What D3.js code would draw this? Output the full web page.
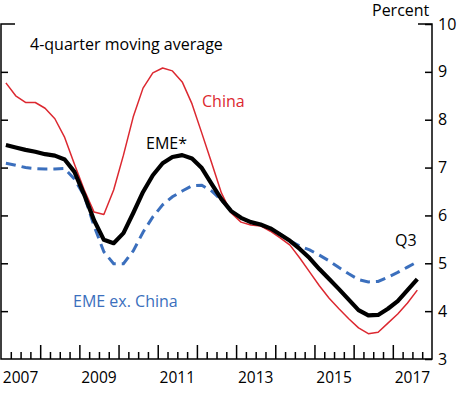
<!DOCTYPE html>
<html>
<head>
<meta charset="utf-8">
<script src="https://cdn.jsdelivr.net/npm/d3@7"></script>
<style>
  html, body { margin: 0; padding: 0; background: #fff; }
  svg { display: block; }
  text { font-family: "Open Sans", sans-serif; }
</style>
</head>
<body>
<svg id="chart" width="469" height="393"></svg>
<script>
// Quarterly, 2007Q1 .. 2017Q3 (4-quarter moving average, percent)
const quarters = d3.range(43).map(k => 2007 + Math.floor(k / 4) + ((k % 4) + 0.5) / 4);

const china = [8.77, 8.50, 8.36, 8.36, 8.24, 8.02, 7.63, 7.07, 6.53, 6.07, 6.02, 6.53,
               7.26, 8.06, 8.66, 8.98, 9.08, 9.02, 8.79, 8.33, 7.72, 7.10, 6.47, 6.05,
               5.86, 5.80, 5.78, 5.67, 5.53, 5.38, 5.11, 4.82, 4.53, 4.27, 4.05, 3.84,
               3.65, 3.53, 3.56, 3.75, 3.94, 4.17, 4.44];
const eme = [7.47, 7.42, 7.37, 7.33, 7.28, 7.25, 7.17, 6.91, 6.43, 5.90, 5.49, 5.42,
             5.63, 6.05, 6.49, 6.84, 7.09, 7.22, 7.26, 7.19, 6.99, 6.66, 6.34, 6.09,
             5.95, 5.86, 5.81, 5.73, 5.60, 5.47, 5.30, 5.11, 4.88, 4.67, 4.46, 4.24,
             4.02, 3.91, 3.92, 4.05, 4.21, 4.44, 4.67];
const emeExChina = [7.09, 7.05, 7.00, 6.98, 6.97, 6.97, 6.98, 6.76, 6.41, 5.78, 5.24, 4.99,
                    4.99, 5.26, 5.65, 5.97, 6.22, 6.39, 6.51, 6.62, 6.63, 6.51, 6.32, 6.09,
                    5.95, 5.86, 5.80, 5.72, 5.61, 5.47, 5.36, 5.28, 5.17, 5.05, 4.91, 4.78,
                    4.66, 4.61, 4.62, 4.71, 4.81, 4.92, 5.03];

const yTicks = [3, 4, 5, 6, 7, 8, 9, 10];
const yearLabels = [2007, 2009, 2011, 2013, 2015, 2017];

const svg = d3.select("#chart");
const L = 1, R = 432, T = 24, B = 359;

const x = d3.scaleLinear().domain([2007, 2018]).range([L, R]);
const y = d3.scaleLinear().domain([3, 10]).range([B, T]);

const axisColor = "#000";

// Quarter ticks (short)
const qTicks = d3.range(2007.25, 2018, 0.25).filter(v => Math.abs(v - Math.round(v)) > 1e-6);
svg.append("g").attr("transform", `translate(0,${B})`)
  .call(d3.axisBottom(x).tickValues(qTicks).tickSizeInner(-7).tickSizeOuter(0).tickFormat(""))
  .call(g => g.select(".domain").remove())
  .call(g => g.selectAll("line").attr("stroke", axisColor).attr("stroke-width", 1.5));

// Year ticks (long)
svg.append("g").attr("transform", `translate(0,${B})`)
  .call(d3.axisBottom(x).tickValues(d3.range(2008, 2018)).tickSizeInner(-14).tickSizeOuter(0).tickFormat(""))
  .call(g => g.select(".domain").remove())
  .call(g => g.selectAll("line").attr("stroke", axisColor).attr("stroke-width", 1.5));

// Year labels at mid-year
svg.append("g").selectAll("text").data(yearLabels).join("text")
  .attr("x", d => x(d + 0.5)).attr("y", 383)
  .attr("text-anchor", "middle").attr("font-size", 15.5).attr("fill", "#000")
  .text(d => d);

// Left ticks
svg.append("g").attr("transform", `translate(${L},0)`)
  .call(d3.axisRight(y).tickValues(yTicks.filter(v => v > 3 && v < 10)).tickSizeInner(7).tickSizeOuter(0).tickFormat(""))
  .call(g => g.select(".domain").remove())
  .call(g => g.selectAll("line").attr("stroke", axisColor).attr("stroke-width", 1.5));

// Right ticks + labels
svg.append("g").attr("transform", `translate(${R},0)`)
  .call(d3.axisRight(y).tickValues(yTicks).tickSizeInner(-7).tickSizeOuter(0).tickPadding(6)
    .tickFormat(d3.format("d")))
  .call(g => g.select(".domain").remove())
  .call(g => g.selectAll("line").attr("stroke", axisColor).attr("stroke-width", 1.5))
  .call(g => g.selectAll("text").attr("font-size", 16).attr("fill", "#000")
    .attr("font-family", "'Open Sans', sans-serif"));

// Frame: left, right, bottom lines and longer top ticks
const frame = svg.append("g").attr("stroke", axisColor).attr("stroke-width", 1.5).attr("fill", "none");
frame.append("path").attr("d", `M${L + 14},${y(10)}H${L}V${B}H${R}V${y(10)}H${R - 14}`);

// Series lines
const line = d3.line().x((d, i) => x(quarters[i])).y(d => y(d));

svg.append("path").datum(emeExChina).attr("d", line)
  .attr("fill", "none").attr("stroke", "#3b6fbd").attr("stroke-width", 3)
  .attr("stroke-dasharray", "10,6");

svg.append("path").datum(china).attr("d", line)
  .attr("fill", "none").attr("stroke", "#dc2830").attr("stroke-width", 1.5)
  .attr("stroke-linejoin", "round");

svg.append("path").datum(eme).attr("d", line)
  .attr("fill", "none").attr("stroke", "#000").attr("stroke-width", 4.2)
  .attr("stroke-linejoin", "round");

// Text labels
const labels = [
  { t: "Percent", x: 372, y: 16, c: "#000" },
  { t: "4-quarter moving average", x: 30, y: 50, c: "#000" },
  { t: "China", x: 202, y: 107, c: "#dc2830" },
  { t: "EME*", x: 146, y: 149, c: "#000" },
  { t: "Q3", x: 395, y: 246, c: "#000" },
  { t: "EME ex. China", x: 73, y: 306.5, c: "#3b6fbd" }
];
svg.append("g").selectAll("text").data(labels).join("text")
  .attr("x", d => d.x).attr("y", d => d.y).attr("fill", d => d.c)
  .attr("font-size", 16).text(d => d.t);
</script>
</body>
</html>
